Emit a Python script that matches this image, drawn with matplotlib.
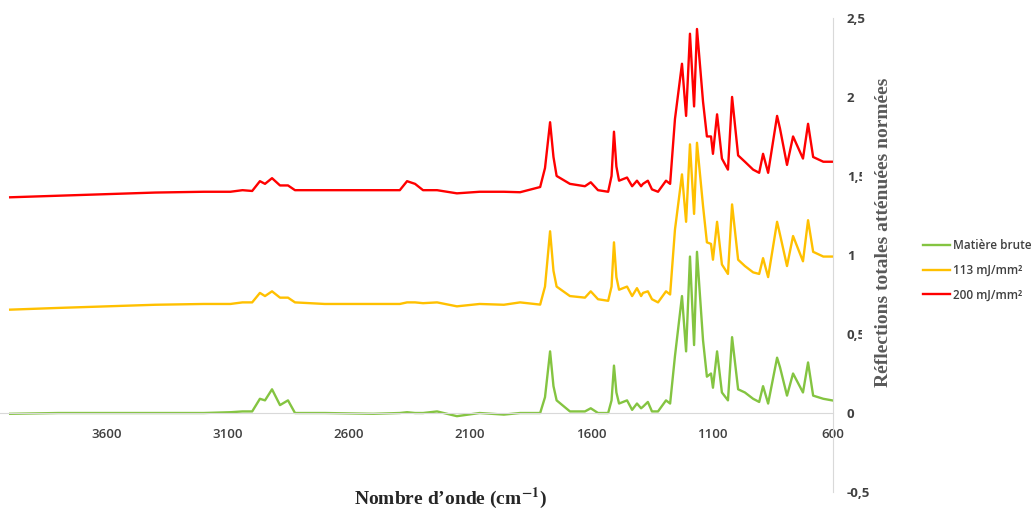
import matplotlib
matplotlib.use('Agg')
import matplotlib.pyplot as plt

plt.rcParams['mathtext.fontset'] = 'stix'

# wavenumbers (cm-1), shared by the three spectra
wavenumber = [4000, 3800, 3600, 3400, 3200, 3090, 3040, 3000, 2968, 2947, 2918, 2885, 2852, 2823,
              2700, 2500, 2390, 2360, 2327, 2294, 2236, 2154, 2060, 1960, 1893, 1810, 1790, 1769,
              1755, 1742, 1687, 1625, 1601, 1571, 1529, 1515, 1505, 1495, 1484, 1451, 1430, 1410,
              1393, 1385, 1365, 1348, 1323, 1290, 1273, 1253, 1224, 1207, 1191, 1174, 1162, 1137,
              1121, 1104, 1096, 1079, 1059, 1034, 1017, 992, 964, 930, 905, 889, 868, 831, 819,
              790, 765, 724, 703, 682, 640, 604]

matiere_brute = [-0.005, 0.0, 0.0, 0.0, 0.0, 0.005, 0.01, 0.01, 0.09, 0.08, 0.15, 0.05, 0.08, 0.0,
                 0.0, -0.005, 0.0, 0.005, 0.0, 0.0, 0.01, -0.02, 0.0, -0.01, 0.0, 0.0, 0.10, 0.39,
                 0.17, 0.08, 0.01, 0.01, 0.03, 0.0, 0.0, 0.08, 0.30, 0.13, 0.06, 0.08, 0.02, 0.06,
                 0.03, 0.04, 0.07, 0.01, 0.01, 0.08, 0.06, 0.36, 0.74, 0.39, 0.99, 0.43, 1.02, 0.46,
                 0.23, 0.25, 0.16, 0.39, 0.13, 0.08, 0.48, 0.15, 0.13, 0.09, 0.07, 0.17, 0.06, 0.35, 0.29,
                 0.11, 0.25, 0.13, 0.32, 0.11, 0.09, 0.08]

e113 = [0.654, 0.665, 0.675, 0.685, 0.69, 0.69, 0.70, 0.70, 0.76, 0.74, 0.77, 0.73, 0.73, 0.70,
        0.69, 0.69, 0.69, 0.70, 0.70, 0.695, 0.70, 0.675, 0.69, 0.685, 0.70, 0.686, 0.80, 1.15,
        0.90, 0.80, 0.74, 0.73, 0.77, 0.72, 0.71, 0.80, 1.08, 0.86, 0.78, 0.80, 0.74, 0.79,
        0.74, 0.76, 0.77, 0.72, 0.70, 0.77, 0.75, 1.16, 1.51, 1.21, 1.70, 1.26, 1.71, 1.31,
        1.08, 1.07, 0.97, 1.21, 0.94, 0.88, 1.32, 0.97, 0.93, 0.89, 0.88, 0.98, 0.86, 1.21, 1.13,
        0.93, 1.12, 0.96, 1.22, 1.02, 0.99, 0.99]

e200 = [1.365, 1.375, 1.385, 1.395, 1.40, 1.40, 1.41, 1.405, 1.467, 1.45, 1.486, 1.44, 1.44, 1.41,
        1.41, 1.41, 1.41, 1.467, 1.45, 1.41, 1.41, 1.39, 1.40, 1.40, 1.397, 1.43, 1.55, 1.84,
        1.62, 1.50, 1.45, 1.435, 1.46, 1.41, 1.40, 1.50, 1.78, 1.56, 1.47, 1.49, 1.435, 1.47,
        1.435, 1.45, 1.47, 1.415, 1.40, 1.47, 1.45, 1.86, 2.21, 1.88, 2.40, 1.94, 2.43, 1.97,
        1.75, 1.75, 1.64, 1.89, 1.61, 1.54, 2.00, 1.63, 1.59, 1.54, 1.52, 1.64, 1.52, 1.88, 1.80,
        1.57, 1.75, 1.61, 1.83, 1.62, 1.59, 1.59]

series_labels = ['Matière brute', '113 mJ/mm²', '200 mJ/mm²']
colors = ['#84c441', '#ffc000', '#ff0000']
xticks = [3600, 3100, 2600, 2100, 1600, 1100, 600]
yticks = [-0.5, 0, 0.5, 1, 1.5, 2, 2.5]
ytick_labels = ['-0,5', '0', '0,5', '1', '1,5', '2', '2,5']

fig = plt.figure(figsize=(10.34, 5.12), dpi=100)
ax = fig.add_axes([0, 0.039, 0.8056, 0.926])

for vals, lab, c in zip([matiere_brute, e113, e200], series_labels, colors):
    ax.plot(wavenumber, vals, color=c, lw=1.7, label=lab)

ax.set_xlim(4042, 600)
ax.set_ylim(-0.5, 2.5)

ax.spines['left'].set_visible(False)
ax.spines['top'].set_visible(False)
ax.spines['right'].set_color('#d9d9d9')
ax.spines['bottom'].set_color('#d9d9d9')
ax.spines['bottom'].set_position(('data', 0))

ax.set_xticks(xticks)
ax.set_xticklabels([str(t) for t in xticks], fontsize=9.5, color='#404040',
                   family='Open Sans', fontweight='semibold')
ax.tick_params(axis='x', length=0, pad=11)

ax.yaxis.tick_right()
ax.set_yticks(yticks)
ax.set_yticklabels(ytick_labels, fontsize=9.5, color='#404040', family='Open Sans',
                   fontweight='bold')
ax.tick_params(axis='y', length=0, pad=10)

fig.text(883 / 1034, 1 - 232 / 512, 'Réflections totales atténuées normées',
         rotation=90, ha='center', va='center', fontsize=14, fontweight='bold',
         family='Liberation Serif', color='#595959',
         bbox=dict(boxstyle='square,pad=0.65', fc='white', ec='none'))

fig.text(450 / 1034, 1 - 498 / 512, r'Nombre d’onde (cm$^{\mathbf{-1}}$)',
         ha='center', va='center', fontsize=14, fontweight='bold',
         family='Liberation Serif', color='#262626')

fig.legend(loc='upper left', bbox_to_anchor=(0.887, 0.545), frameon=False,
           prop={'family': 'Open Sans', 'size': 8.5, 'weight': 'semibold'},
           labelcolor='#404040', handlelength=2.3, handletextpad=0.2,
           borderpad=0, labelspacing=1.0)

fig.savefig('out.png', dpi=100)
